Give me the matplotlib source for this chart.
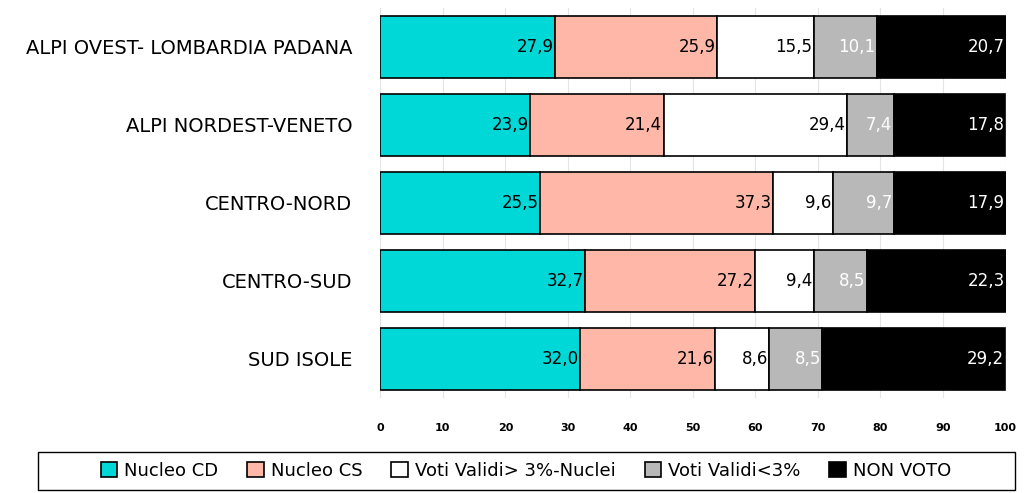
import matplotlib.pyplot as plt
import numpy as np
from matplotlib.patches import Rectangle

regions = ["ALPI OVEST- LOMBARDIA PADANA", "ALPI NORDEST-VENETO",
           "CENTRO-NORD", "CENTRO-SUD", "SUD ISOLE"]
series = ["Nucleo CD", "Nucleo CS", "Voti Validi> 3%-Nuclei",
          "Voti Validi<3%", "NON VOTO"]
nucleo_cd = [27.9, 23.9, 25.5, 32.7, 32.0]
nucleo_cs = [25.9, 21.4, 37.3, 27.2, 21.6]
voti_sopra = [15.5, 29.4, 9.6, 9.4, 8.6]
voti_sotto = [10.1, 7.4, 9.7, 8.5, 8.5]
non_voto = [20.7, 17.8, 17.9, 22.3, 29.2]

colors = ["#00d8d8", "#ffb8a8", "#ffffff", "#b8b8b8", "#000000"]
text_colors = ["black", "black", "black", "white", "white"]

fig = plt.figure(figsize=(10.25, 4.93), dpi=100)
ax = fig.add_axes([0.371, 0.193, 0.61, 0.791])

y = np.arange(len(regions))
left = np.zeros(len(regions))
for vals, name, c, tc in zip([nucleo_cd, nucleo_cs, voti_sopra, voti_sotto, non_voto],
                             series, colors, text_colors):
    vals = np.array(vals)
    ax.barh(y, vals, left=left, height=0.8, color=c, edgecolor="black",
            linewidth=1.2, label=name, zorder=3)
    for yi, l, v in zip(y, left, vals):
        ax.text(l + v - 0.2, yi, f"{v:.1f}".replace(".", ","), ha="right",
                va="center", fontsize=12, color=tc, zorder=4)
    left += vals

ax.set_xlim(0, 100)
ax.set_ylim(len(regions) - 0.5, -0.5)
ax.set_yticks(y)
ax.set_yticklabels(regions, fontsize=14)
ax.set_xticks(np.arange(0, 101, 10))
ax.tick_params(axis="x", labelsize=8, length=0, pad=18)
ax.tick_params(axis="y", length=0, pad=20)
for lbl in ax.get_xticklabels():
    lbl.set_fontweight("bold")
ax.grid(axis="x", color="#e4e4e4", linewidth=0.8, zorder=0)
for s in ax.spines.values():
    s.set_visible(False)

# legend box spans nearly the full width
fig.patches.append(Rectangle((38 / 1025, 3 / 493), 977 / 1025, 38 / 493,
                             transform=fig.transFigure, fill=False,
                             edgecolor="black", linewidth=1.0))
leg = fig.legend(loc="center", bbox_to_anchor=(526 / 1025, 22 / 493), ncol=5,
                 fontsize=13, frameon=False,
                 handlelength=0.9, handleheight=0.9, handletextpad=0.4,
                 columnspacing=1.6)
for h in leg.legend_handles:
    h.set_linewidth(1.2)

fig.savefig("out.png", dpi=100)
